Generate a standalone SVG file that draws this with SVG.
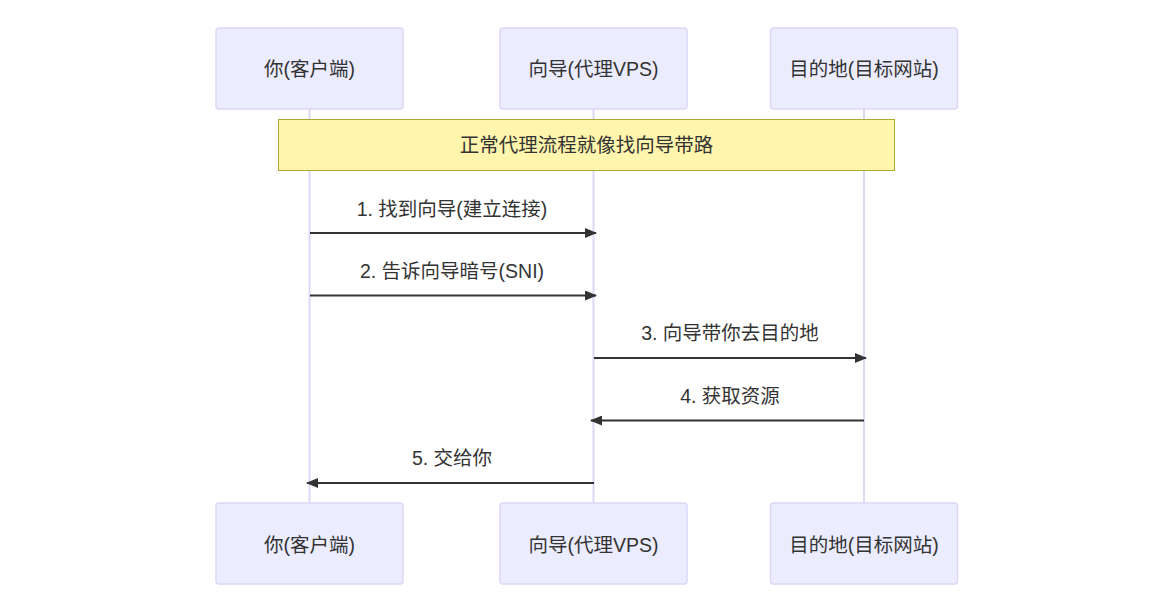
<svg xmlns="http://www.w3.org/2000/svg" width="1158" height="616" viewBox="0 0 1158 616">
<style>
.actor{fill:#ececff;stroke:#ddd6f5;stroke-width:1.5}
.life{stroke:#ddd6f5;stroke-width:2}
.t{font-family:"Liberation Sans","Noto Sans CJK SC",sans-serif;font-size:19.5px;fill:#333;text-anchor:middle;dominant-baseline:central}
.msg{stroke:#333;stroke-width:2;fill:none}
.note{fill:#fff5ad;stroke:#aaaa33;stroke-width:1}
</style>
<defs>
<marker id="ah" viewBox="0 0 12 10" refX="11" refY="5" markerWidth="12" markerHeight="10" markerUnits="userSpaceOnUse" orient="auto">
<path d="M0,0 L12,5 L0,10 z" fill="#333"/>
</marker>
</defs>
<rect width="1158" height="616" fill="#fff"/>
<g id="lifelines">
<line class="life" x1="309.5" y1="109" x2="309.5" y2="503"/>
<line class="life" x1="593.5" y1="109" x2="593.5" y2="503"/>
<line class="life" x1="864" y1="109" x2="864" y2="503"/>
</g>
<g id="client-top"><rect class="actor" x="216" y="28" width="187" height="81" rx="3"/><text class="t" x="309.5" y="69">你(客户端)</text></g>
<g id="proxy-top"><rect class="actor" x="500" y="28" width="187" height="81" rx="3"/><text class="t" x="593.5" y="69">向导(代理VPS)</text></g>
<g id="dest-top"><rect class="actor" x="770.5" y="28" width="187" height="81" rx="3"/><text class="t" x="864" y="69">目的地(目标网站)</text></g>
<g id="note"><rect class="note" x="278.5" y="119.5" width="616" height="51"/><text class="t" x="586.5" y="145">正常代理流程就像找向导带路</text></g>
<g id="connectors">
<line class="msg" x1="310" y1="233" x2="596" y2="233" marker-end="url(#ah)"/>
<text class="t" x="452" y="209">1. 找到向导(建立连接)</text>
<line class="msg" x1="310" y1="295.5" x2="596" y2="295.5" marker-end="url(#ah)"/>
<text class="t" x="452" y="271">2. 告诉向导暗号(SNI)</text>
<line class="msg" x1="594" y1="358" x2="866" y2="358" marker-end="url(#ah)"/>
<text class="t" x="730" y="333">3. 向导带你去目的地</text>
<line class="msg" x1="864" y1="420.5" x2="591" y2="420.5" marker-end="url(#ah)"/>
<text class="t" x="730" y="396">4. 获取资源</text>
<line class="msg" x1="594" y1="483" x2="307" y2="483" marker-end="url(#ah)"/>
<text class="t" x="452" y="458">5. 交给你</text>
</g>
<g id="client-bottom"><rect class="actor" x="216" y="503" width="187" height="81" rx="3"/><text class="t" x="309.5" y="545">你(客户端)</text></g>
<g id="proxy-bottom"><rect class="actor" x="500" y="503" width="187" height="81" rx="3"/><text class="t" x="593.5" y="545">向导(代理VPS)</text></g>
<g id="dest-bottom"><rect class="actor" x="770.5" y="503" width="187" height="81" rx="3"/><text class="t" x="864" y="545">目的地(目标网站)</text></g>
</svg>
